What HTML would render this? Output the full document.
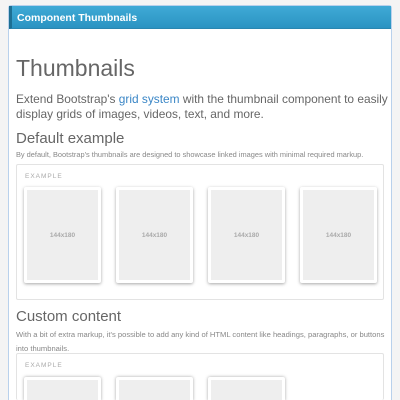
<!DOCTYPE html>
<html style="overflow:hidden;height:400px"><head><style>
*{margin:0;padding:0;box-sizing:border-box}
body{width:400px;height:400px;overflow:hidden;background:#f4f4f4;font-family:"Liberation Sans",sans-serif;position:relative}
#w{position:absolute;left:0;top:0;width:400px;height:400px;overflow:hidden}
.panel{position:absolute;left:8px;top:5px;width:384px;height:395px;background:#fff;border:1px solid #b9d1ec;border-bottom:none;border-radius:3px 3px 0 0}
.hdr{position:absolute;left:0;top:0;right:0;height:23px;background:linear-gradient(#3faad6,#2b93c2);border-left:3px solid #1d6f93;border-bottom:1px solid #2a86b0;color:#fff;font-size:10.5px;font-weight:bold;padding:6px 0 0 5px}
.t{position:absolute;left:16px;color:#666;white-space:nowrap}
.box{position:absolute;left:16px;width:368px;border:1px solid #e3e3e3;border-radius:2px;overflow:hidden}
.ex{position:absolute;font-size:6.5px;letter-spacing:1px;color:#aaa;left:8px}
.th{position:absolute;width:77px;height:96px;background:#fff;border-radius:2px;box-shadow:0 1px 3px rgba(0,0,0,.35)}
.th div{position:absolute;left:3px;top:3px;right:3px;bottom:3px;background:#eee;color:#aaa;font-size:6.5px;font-weight:bold;display:flex;align-items:center;justify-content:center}
.s{height:24px;border-radius:2px 2px 0 0;box-shadow:0 0 3px rgba(0,0,0,.35)}
.s div{bottom:0}
</style></head><body><div id="w">
<div class="panel"><div class="hdr">Component Thumbnails</div></div>
<div class="t" style="top:55px;font-size:23px;color:#666">Thumbnails</div>
<div class="t" style="top:92px;font-size:11.9px;line-height:15px">Extend Bootstrap's <span style="color:#3a86c6">grid system</span> with the thumbnail component to easily<br>display grids of images, videos, text, and more.</div>
<div class="t" style="top:130px;font-size:15px">Default example</div>
<div class="t" style="top:150px;font-size:7.4px;color:#888">By default, Bootstrap's thumbnails are designed to showcase linked images with minimal required markup.</div>
<div class="box" style="top:164px;height:136px">
<div class="ex" style="top:8px">EXAMPLE</div>
<div class="th" style="left:7px;top:22px"><div>144x180</div></div>
<div class="th" style="left:99px;top:22px"><div>144x180</div></div>
<div class="th" style="left:191px;top:22px"><div>144x180</div></div>
<div class="th" style="left:283px;top:22px"><div>144x180</div></div>
</div>
<div class="t" style="top:328px;font-size:7.6px;line-height:14px;color:#888">With a bit of extra markup, it's possible to add any kind of HTML content like headings, paragraphs, or buttons<br>into thumbnails.</div>
<div class="t" style="top:308px;font-size:15px">Custom content</div>
<div class="box" style="top:353px;height:47px;border-bottom:none">
<div class="ex" style="top:8px">EXAMPLE</div>
<div class="th s" style="left:7px;top:23px"><div></div></div>
<div class="th s" style="left:99px;top:23px"><div></div></div>
<div class="th s" style="left:191px;top:23px"><div></div></div>
</div>
</div></body></html>
